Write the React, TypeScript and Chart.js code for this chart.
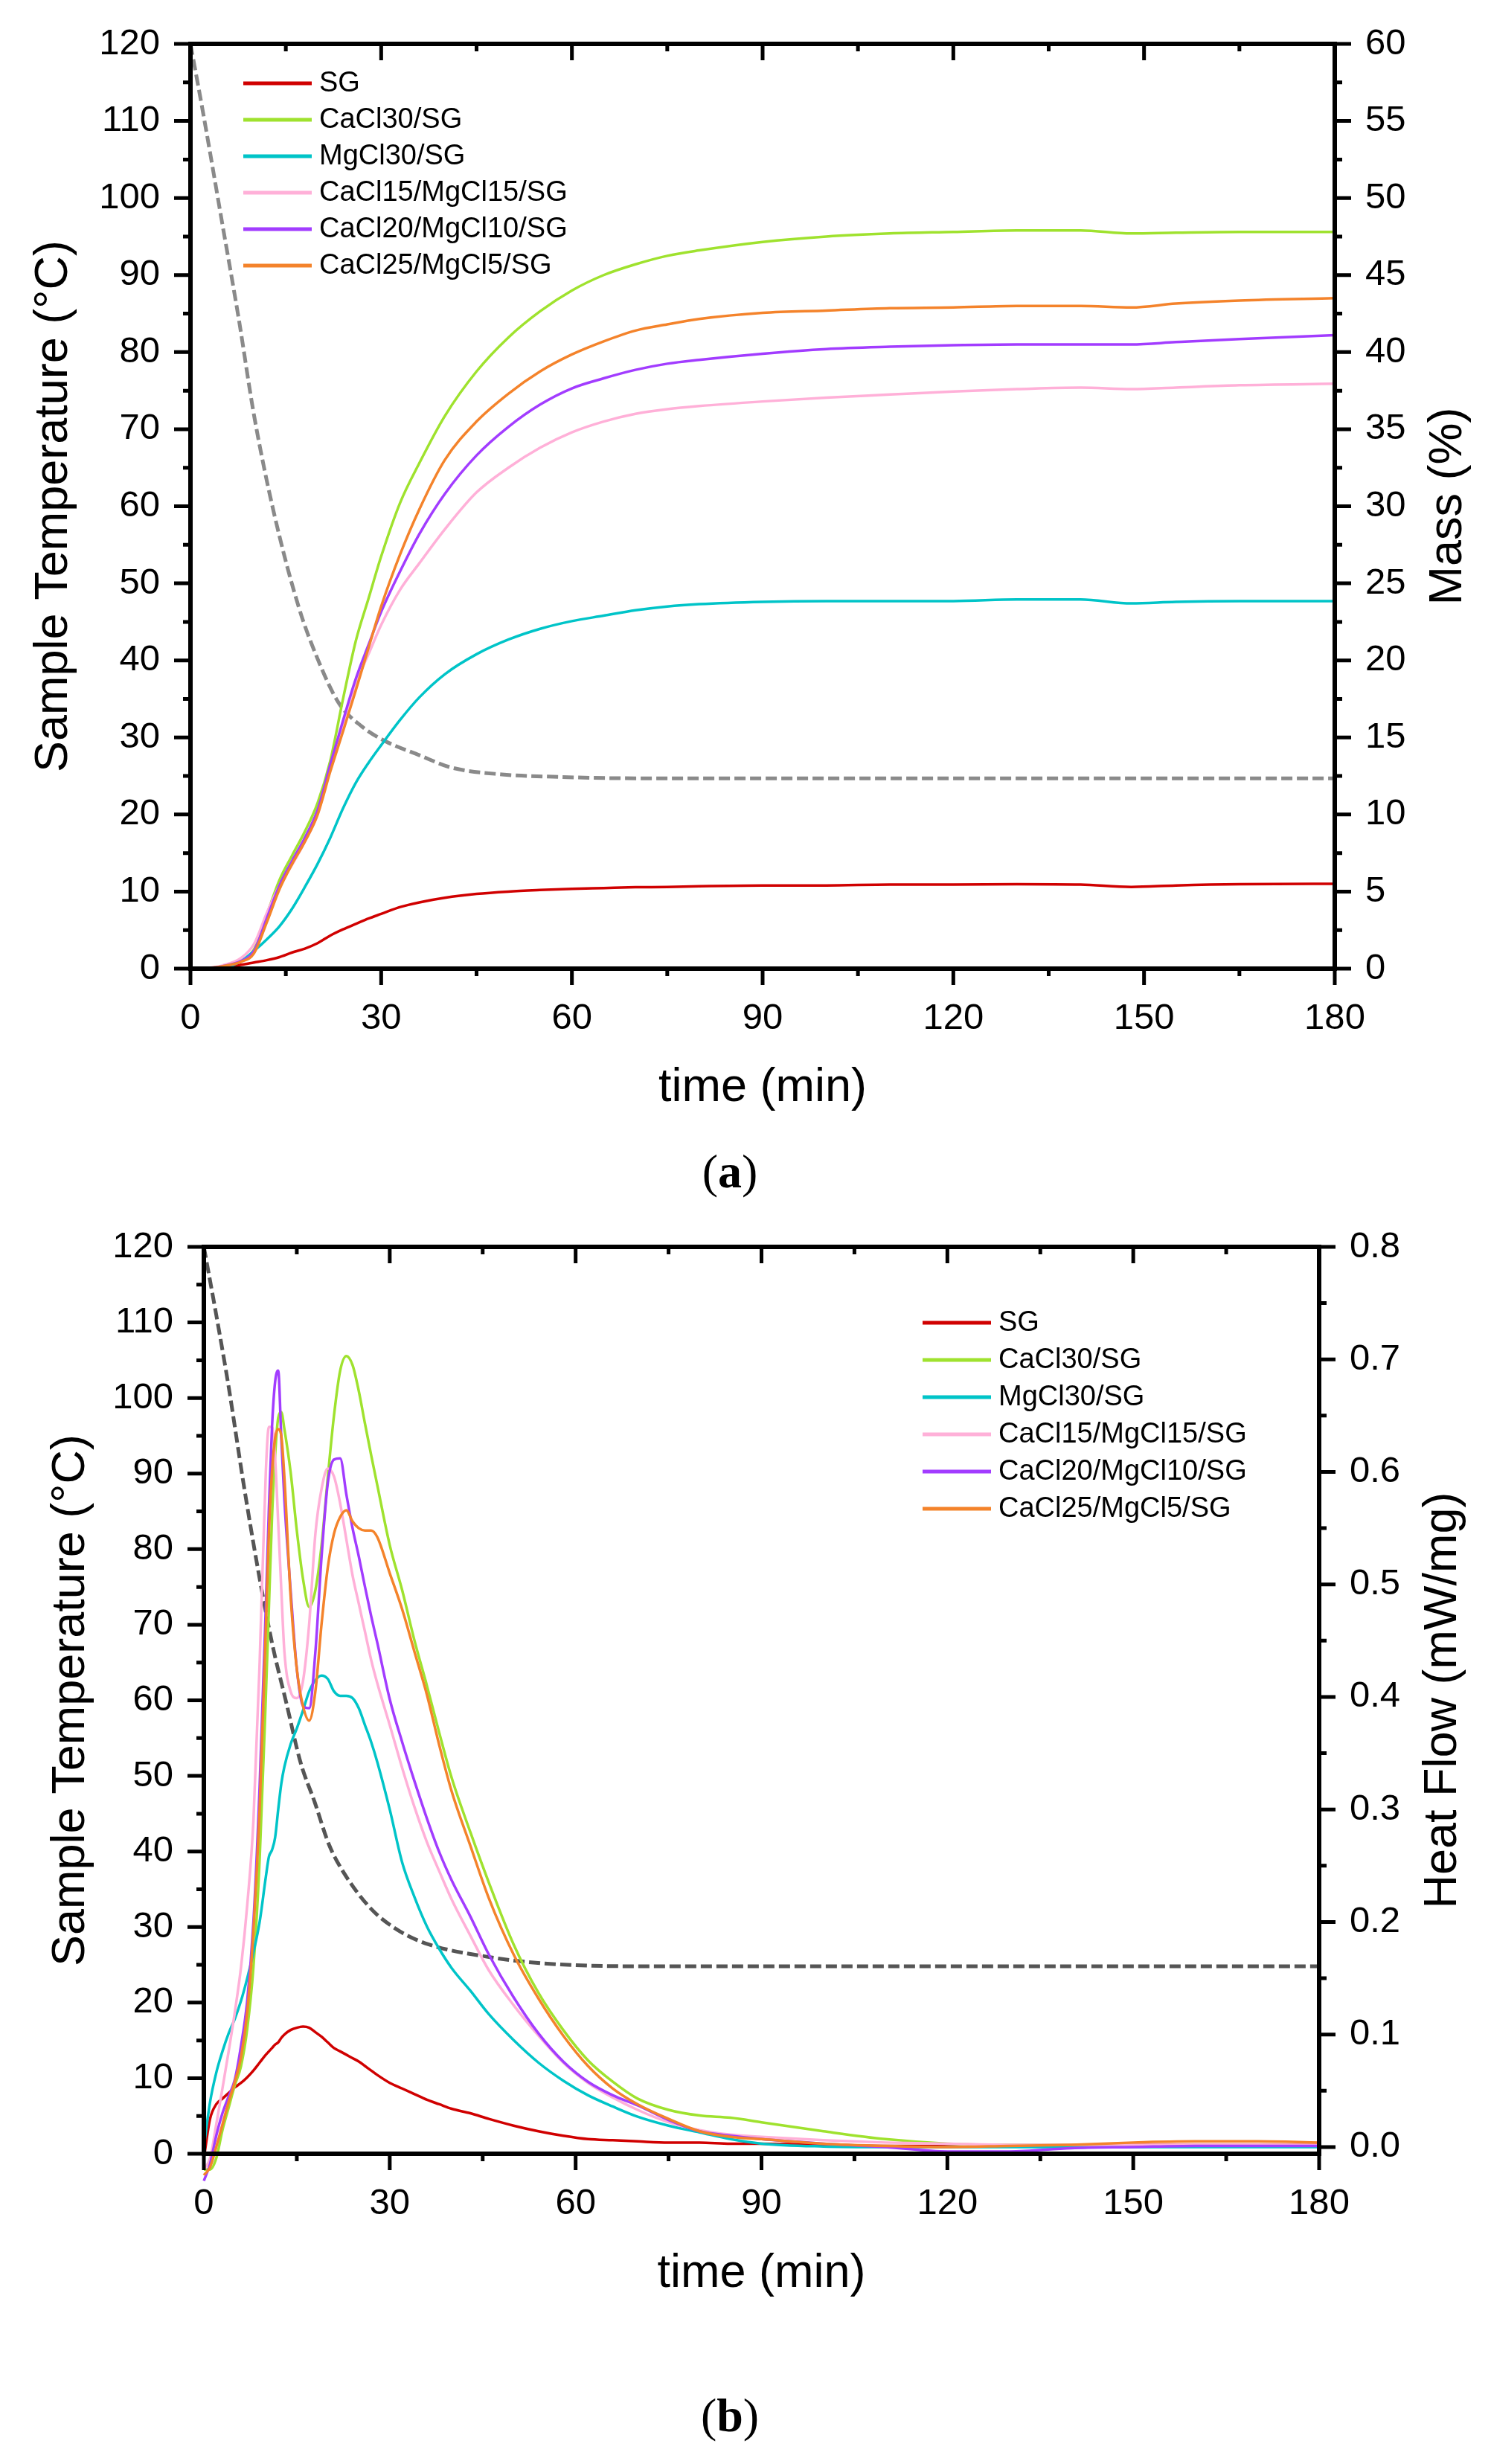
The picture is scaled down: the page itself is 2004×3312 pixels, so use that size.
import React, { useEffect, useRef } from "react";
import { Chart, registerables } from "chart.js";

Chart.register(...registerables);

const FONT = "'Liberation Sans', Arial, Helvetica, sans-serif";

// ---------------- shared ----------------
const SERIES_LABELS = [
  "SG",
  "CaCl30/SG",
  "MgCl30/SG",
  "CaCl15/MgCl15/SG",
  "CaCl20/MgCl10/SG",
  "CaCl25/MgCl5/SG",
];
const SERIES_COLORS = ["#d00000", "#9fe22e", "#00c4c8", "#ffb0d8", "#a23cff", "#f4832b"];

const X_TICKS = [0, 30, 60, 90, 120, 150, 180];
const X_MINOR = [15, 45, 75, 105, 135, 165];
const TEMP_TICKS = [0, 10, 20, 30, 40, 50, 60, 70, 80, 90, 100, 110, 120];
const TEMP_MINOR = [5, 15, 25, 35, 45, 55, 65, 75, 85, 95, 105, 115];
const MASS_TICKS = [0, 5, 10, 15, 20, 25, 30, 35, 40, 45, 50, 55, 60];
const MASS_MINOR = [2.5, 7.5, 12.5, 17.5, 22.5, 27.5, 32.5, 37.5, 42.5, 47.5, 52.5, 57.5];
const HF_TICKS = [0, 0.1, 0.2, 0.3, 0.4, 0.5, 0.6, 0.7, 0.8];
const HF_MINOR = [0.05, 0.15, 0.25, 0.35, 0.45, 0.55, 0.65, 0.75];

// ---------------- panel (a): mass gain (%) ----------------
const TIME_A = [2, 5, 8, 10, 12, 14, 16, 18, 20, 22, 24, 26, 28, 30, 33, 36, 40, 45, 50, 55, 60, 65, 70, 75, 80, 90, 100, 110, 120, 130, 140, 148, 155, 165, 180];
const MASS_SG = [0, 0.05, 0.25, 0.4, 0.55, 0.75, 1.05, 1.3, 1.65, 2.15, 2.55, 2.9, 3.25, 3.55, 4.0, 4.3, 4.6, 4.85, 5.0, 5.1, 5.18, 5.23, 5.28, 5.3, 5.35, 5.4, 5.4, 5.45, 5.45, 5.48, 5.45, 5.3, 5.4, 5.48, 5.5];
const MASS_CA30 = [0, 0.15, 0.5, 1.25, 3.5, 5.75, 7.35, 8.9, 10.75, 13.5, 17.5, 21.25, 24.0, 26.75, 30.25, 32.8, 35.85, 38.75, 40.95, 42.65, 44.0, 45.0, 45.7, 46.25, 46.6, 47.15, 47.5, 47.7, 47.8, 47.9, 47.9, 47.7, 47.75, 47.8, 47.8];
const MASS_MG30 = [0, 0.05, 0.5, 1.15, 1.9, 2.75, 3.9, 5.3, 6.8, 8.5, 10.4, 12.05, 13.35, 14.5, 16.15, 17.6, 19.1, 20.4, 21.35, 22.05, 22.55, 22.9, 23.25, 23.5, 23.65, 23.8, 23.85, 23.85, 23.85, 23.95, 23.95, 23.7, 23.8, 23.85, 23.85];
const MASS_CA15MG15 = [0, 0.2, 0.7, 1.6, 3.6, 5.4, 6.75, 8.25, 10.0, 13.1, 15.95, 18.5, 20.4, 22.3, 24.6, 26.3, 28.5, 30.9, 32.5, 33.8, 34.8, 35.5, 36.0, 36.3, 36.5, 36.8, 37.05, 37.25, 37.45, 37.6, 37.7, 37.6, 37.7, 37.85, 37.95];
const MASS_CA20MG10 = [0, 0.15, 0.5, 1.15, 3.25, 5.4, 7.0, 8.5, 10.3, 13.25, 16.1, 18.8, 21.0, 23.15, 25.8, 28.2, 30.8, 33.3, 35.15, 36.6, 37.65, 38.3, 38.85, 39.25, 39.5, 39.9, 40.2, 40.35, 40.45, 40.5, 40.5, 40.5, 40.65, 40.85, 41.1];
const MASS_CA25MG5 = [0, 0.15, 0.45, 1.0, 3.0, 5.15, 6.8, 8.25, 10.0, 12.8, 15.4, 18.05, 20.8, 23.5, 26.9, 29.8, 33.0, 35.5, 37.3, 38.75, 39.85, 40.7, 41.4, 41.8, 42.15, 42.55, 42.7, 42.85, 42.9, 43.0, 43.0, 42.9, 43.15, 43.35, 43.5];
const TEMP_TIME_A = [0, 2, 5, 7.6, 10, 13, 17, 20, 23.3, 27, 30.7, 36, 41, 49, 57, 70, 100, 140, 180];
const TEMP_A = [120, 111, 96.7, 84.3, 71.8, 59.6, 47.0, 40.2, 34.5, 31.4, 29.5, 27.7, 26.1, 25.2, 24.9, 24.7, 24.7, 24.7, 24.7];

// ---------------- panel (b): heat flow (mW/mg) ----------------
const TIME_B = [0, 1, 2, 3, 4, 5, 6, 7, 8, 9, 10, 10.5, 11, 11.5, 12, 12.5, 13, 14, 15, 16, 17, 18, 19, 20, 21, 22, 23, 24, 25, 26, 27, 28, 30, 32, 34, 36, 38, 40, 43, 46, 50, 54, 58, 62, 66, 70, 75, 80, 85, 90, 100, 110, 120, 130, 140, 150, 160, 170, 180];
const HF_SG = [-0.01, 0.025, 0.038, 0.043, 0.048, 0.053, 0.057, 0.062, 0.068, 0.075, 0.082, 0.085, 0.088, 0.091, 0.093, 0.097, 0.1, 0.104, 0.106, 0.107, 0.106, 0.102, 0.098, 0.093, 0.088, 0.085, 0.082, 0.079, 0.076, 0.072, 0.068, 0.064, 0.057, 0.052, 0.047, 0.042, 0.038, 0.034, 0.03, 0.025, 0.019, 0.014, 0.01, 0.007, 0.006, 0.005, 0.004, 0.004, 0.003, 0.003, 0.002, 0.001, 0.001, 0.001, 0.001, 0.002, 0.002, 0.002, 0.002];
const HF_CA30 = [-0.02, -0.02, -0.01, 0.015, 0.035, 0.055, 0.072, 0.105, 0.16, 0.255, 0.4, 0.48, 0.56, 0.615, 0.648, 0.653, 0.638, 0.6, 0.548, 0.505, 0.48, 0.495, 0.535, 0.595, 0.65, 0.69, 0.703, 0.695, 0.672, 0.643, 0.615, 0.588, 0.535, 0.495, 0.45, 0.41, 0.368, 0.328, 0.28, 0.235, 0.18, 0.137, 0.104, 0.077, 0.058, 0.043, 0.033, 0.028, 0.026, 0.022, 0.014, 0.007, 0.003, 0.002, 0.002, 0.001, 0.001, 0.001, 0.001];
const HF_MG30 = [0.0, 0.04, 0.066, 0.085, 0.101, 0.114, 0.13, 0.15, 0.173, 0.2, 0.24, 0.258, 0.264, 0.275, 0.3, 0.323, 0.338, 0.358, 0.372, 0.388, 0.405, 0.415, 0.419, 0.416, 0.405, 0.401, 0.401, 0.399, 0.39, 0.375, 0.36, 0.342, 0.3, 0.253, 0.222, 0.196, 0.176, 0.159, 0.139, 0.118, 0.095, 0.075, 0.059, 0.046, 0.036, 0.027, 0.019, 0.013, 0.007, 0.003, 0.0005, 0, 0, 0, 0, 0, 0, 0, 0];
const HF_CA15MG15 = [-0.02, -0.01, 0.02, 0.052, 0.085, 0.12, 0.16, 0.215, 0.29, 0.43, 0.6, 0.64, 0.64, 0.612, 0.555, 0.495, 0.44, 0.405, 0.399, 0.414, 0.465, 0.545, 0.585, 0.603, 0.596, 0.572, 0.54, 0.508, 0.483, 0.458, 0.433, 0.412, 0.375, 0.337, 0.302, 0.271, 0.245, 0.22, 0.188, 0.157, 0.126, 0.099, 0.075, 0.057, 0.044, 0.033, 0.022, 0.015, 0.011, 0.009, 0.006, 0.004, 0.003, 0.002, 0.002, 0.002, 0.002, 0.002, 0.002];
const HF_CA20MG10 = [-0.03, -0.015, 0.01, 0.03, 0.045, 0.06, 0.09, 0.13, 0.2, 0.32, 0.48, 0.568, 0.64, 0.68, 0.69, 0.63, 0.575, 0.495, 0.425, 0.392, 0.39, 0.44, 0.525, 0.59, 0.611, 0.612, 0.58, 0.55, 0.525, 0.498, 0.472, 0.448, 0.398, 0.36, 0.325, 0.292, 0.262, 0.237, 0.205, 0.171, 0.133, 0.101, 0.076, 0.058, 0.046, 0.037, 0.024, 0.014, 0.01, 0.007, 0.003, 0.0, -0.004, -0.004, -0.001, 0.0, 0.001, 0.001, 0.001];
const HF_CA25MG5 = [-0.025, -0.018, 0.0, 0.02, 0.04, 0.058, 0.08, 0.12, 0.192, 0.3, 0.46, 0.546, 0.6, 0.63, 0.638, 0.632, 0.595, 0.49, 0.425, 0.392, 0.379, 0.405, 0.465, 0.515, 0.545, 0.56, 0.566, 0.556, 0.55, 0.548, 0.548, 0.542, 0.51, 0.478, 0.44, 0.402, 0.357, 0.316, 0.268, 0.221, 0.171, 0.132, 0.099, 0.072, 0.052, 0.038, 0.025, 0.014, 0.009, 0.007, 0.003, 0.001, 0.0, 0.001, 0.002, 0.004, 0.005, 0.005, 0.004];
const TEMP_TIME_B = [0, 2, 4, 6.4, 8.7, 11, 13.3, 15.6, 17.9, 20.2, 22.5, 27, 31.7, 36.3, 45.5, 54.7, 72, 100, 140, 180];
const TEMP_B = [120, 111, 101.5, 88.7, 77.5, 67.6, 59.7, 51.8, 46.5, 40.9, 37.3, 32.4, 29.4, 27.7, 26.1, 25.2, 24.8, 24.8, 24.8, 24.8];

const MASS_SERIES = [MASS_SG, MASS_CA30, MASS_MG30, MASS_CA15MG15, MASS_CA20MG10, MASS_CA25MG5];
const HF_SERIES = [HF_SG, HF_CA30, HF_MG30, HF_CA15MG15, HF_CA20MG10, HF_CA25MG5];

const toPoints = (xs: number[], ys: number[]) => xs.map((x, i) => ({ x, y: ys[i] }));

type DecorCfg = {
  leftMajor: number[];
  leftMinor: number[];
  rightMajor: number[];
  rightMinor: number[];
  leftTitle: string;
  rightTitle: string;
  leftTitleX: number;
  rightTitleX: number;
  xTitleY: number;
  legendLineX: number;
  legendY0: number;
  legendDy: number;
};

function makeDecor(cfg: DecorCfg) {
  return {
    id: "decor",
    afterDraw(chart: any) {
      const ctx = chart.ctx as CanvasRenderingContext2D;
      const { left, right, top, bottom } = chart.chartArea;
      const xs = chart.scales.x;
      const yl = chart.scales.y;
      const yr = chart.scales.y2;
      ctx.save();
      ctx.strokeStyle = "#000";
      ctx.lineWidth = 6;
      ctx.lineCap = "butt";
      ctx.beginPath();
      ctx.rect(left, top, right - left, bottom - top);
      ctx.stroke();
      const MAJ = 22;
      const MIN = 10;
      ctx.lineWidth = 5;
      ctx.beginPath();
      const xt = (vals: number[], len: number) => {
        vals.forEach((v) => {
          const p = xs.getPixelForValue(v);
          ctx.moveTo(p, bottom);
          ctx.lineTo(p, bottom + len);
          ctx.moveTo(p, top);
          ctx.lineTo(p, top + len);
        });
      };
      xt(X_TICKS, MAJ);
      xt(X_MINOR, MIN);
      const yt = (scale: any, vals: number[], len: number, side: number) => {
        vals.forEach((v) => {
          const p = scale.getPixelForValue(v);
          const x0 = side < 0 ? left : right;
          ctx.moveTo(x0, p);
          ctx.lineTo(x0 + side * len, p);
        });
      };
      yt(yl, cfg.leftMajor, MAJ, -1);
      yt(yl, cfg.leftMinor, MIN, -1);
      yt(yr, cfg.rightMajor, MAJ, 1);
      yt(yr, cfg.rightMinor, MIN, 1);
      ctx.stroke();

      // axis titles
      ctx.fillStyle = "#000";
      ctx.font = `63px ${FONT}`;
      const midY = (top + bottom) / 2;
      const rot = (text: string, x: number) => {
        ctx.save();
        ctx.translate(x, midY);
        ctx.rotate(-Math.PI / 2);
        ctx.textAlign = "center";
        ctx.textBaseline = "alphabetic";
        ctx.fillText(text, 0, 0);
        ctx.restore();
      };
      rot(cfg.leftTitle, cfg.leftTitleX);
      rot(cfg.rightTitle, cfg.rightTitleX);
      ctx.textAlign = "center";
      ctx.textBaseline = "middle";
      ctx.fillText("time (min)", (left + right) / 2, cfg.xTitleY);

      // legend
      ctx.font = `38px ${FONT}`;
      ctx.textAlign = "left";
      ctx.textBaseline = "middle";
      let row = 0;
      chart.data.datasets.forEach((ds: any) => {
        if (!ds.label) return;
        const y = cfg.legendY0 + row * cfg.legendDy;
        ctx.beginPath();
        ctx.strokeStyle = ds.borderColor;
        ctx.lineWidth = 5;
        ctx.moveTo(cfg.legendLineX, y);
        ctx.lineTo(cfg.legendLineX + 92, y);
        ctx.stroke();
        ctx.fillStyle = "#000";
        ctx.fillText(ds.label, cfg.legendLineX + 102, y + 1);
        row++;
      });
      ctx.restore();
    },
  };
}

const tickFont = { family: FONT, size: 49 };

function axisX(height: number) {
  return {
    type: "linear",
    position: "bottom",
    min: 0,
    max: 180,
    grid: { display: false, drawTicks: false },
    border: { display: false },
    ticks: { font: tickFont, color: "#000", padding: 38, maxRotation: 0, autoSkip: false, callback: (v: any) => String(v) },
    afterBuildTicks: (s: any) => {
      s.ticks = X_TICKS.map((v) => ({ value: v }));
    },
    afterFit: (s: any) => {
      s.height = height;
    },
  };
}

function axisY(position: string, min: number, max: number, ticks: number[], width: number, fmt: (v: number) => string) {
  return {
    type: "linear",
    position,
    min,
    max,
    grid: { display: false, drawTicks: false },
    border: { display: false },
    ticks: { font: tickFont, color: "#000", padding: 41, autoSkip: false, callback: (v: any) => fmt(Number(v)) },
    afterBuildTicks: (s: any) => {
      s.ticks = ticks.map((v) => ({ value: v }));
    },
    afterFit: (s: any) => {
      s.width = width;
    },
  };
}

// canvas A is shifted up so the chart area top can sit at page y = 59
const A_TOP = -40;
const A_H = 1560;

function configA(): any {
  const datasets: any[] = SERIES_LABELS.map((label, i) => ({
    label,
    data: toPoints(TIME_A, MASS_SERIES[i]),
    yAxisID: "y2",
    borderColor: SERIES_COLORS[i],
    borderWidth: 3.5,
    pointRadius: 0,
    cubicInterpolationMode: "monotone",
    order: 6 - i,
  }));
  datasets.push({
    label: "",
    data: toPoints(TEMP_TIME_A, TEMP_A),
    yAxisID: "y",
    borderColor: "#8a8a8a",
    borderWidth: 5,
    borderDash: [15, 6],
    pointRadius: 0,
    cubicInterpolationMode: "monotone",
    order: 10,
  });
  return {
    type: "line",
    data: { datasets },
    options: {
      responsive: false,
      animation: false,
      devicePixelRatio: 1,
      layout: { padding: { top: 59 - A_TOP, left: 0, right: 0, bottom: 0 } },
      plugins: { legend: { display: false }, tooltip: { enabled: false }, title: { display: false } },
      scales: {
        x: axisX(A_TOP + A_H - 1302),
        y: axisY("left", 0, 120, TEMP_TICKS, 256, (v) => String(v)),
        y2: axisY("right", 0, 60, MASS_TICKS, 2004 - 1794, (v) => String(v)),
      },
    },
    plugins: [
      makeDecor({
        leftMajor: TEMP_TICKS,
        leftMinor: TEMP_MINOR,
        rightMajor: MASS_TICKS,
        rightMinor: MASS_MINOR,
        leftTitle: "Sample Temperature (°C)",
        rightTitle: "Mass (%)",
        leftTitleX: 90,
        rightTitleX: 1964,
        xTitleY: 1463 - A_TOP,
        legendLineX: 327,
        legendY0: 112 - A_TOP,
        legendDy: 49,
      }),
    ],
  };
}

const B_TOP = 1560;
const B_H = 1560;

function configB(): any {
  const datasets: any[] = SERIES_LABELS.map((label, i) => ({
    label,
    data: toPoints(TIME_B, HF_SERIES[i]),
    yAxisID: "y2",
    borderColor: SERIES_COLORS[i],
    borderWidth: 3.5,
    pointRadius: 0,
    cubicInterpolationMode: "monotone",
    clip: false,
    order: 6 - i,
  }));
  datasets.push({
    label: "",
    data: toPoints(TEMP_TIME_B, TEMP_B),
    yAxisID: "y",
    borderColor: "#555555",
    borderWidth: 5,
    borderDash: [15, 6],
    pointRadius: 0,
    cubicInterpolationMode: "monotone",
    order: 10,
  });
  return {
    type: "line",
    data: { datasets },
    options: {
      responsive: false,
      animation: false,
      devicePixelRatio: 1,
      layout: { padding: { top: 1676 - B_TOP, left: 0, right: 0, bottom: 0 } },
      plugins: { legend: { display: false }, tooltip: { enabled: false }, title: { display: false } },
      scales: {
        x: axisX(B_TOP + B_H - 2895),
        y: axisY("left", 0, 120, TEMP_TICKS, 274, (v) => String(v)),
        y2: axisY("right", -0.006, 0.8, HF_TICKS, 2004 - 1773, (v) => v.toFixed(1)),
      },
    },
    plugins: [
      makeDecor({
        leftMajor: TEMP_TICKS,
        leftMinor: TEMP_MINOR,
        rightMajor: HF_TICKS,
        rightMinor: HF_MINOR,
        leftTitle: "Sample Temperature (°C)",
        rightTitle: "Heat Flow (mW/mg)",
        leftTitleX: 113,
        rightTitleX: 1957,
        xTitleY: 3057 - B_TOP,
        legendLineX: 1240,
        legendY0: 1778 - B_TOP,
        legendDy: 50,
      }),
    ],
  };
}

function ChartCanvas({ make, top, height }: { make: () => any; top: number; height: number }) {
  const ref = useRef<HTMLCanvasElement | null>(null);
  useEffect(() => {
    if (!ref.current) return;
    const chart = new Chart(ref.current, make());
    return () => chart.destroy();
  }, []);
  return (
    <canvas
      ref={ref}
      width={2004}
      height={height}
      style={{ position: "absolute", left: 0, top, width: 2004, height, display: "block" }}
    />
  );
}

const captionStyle = (centerY: number): React.CSSProperties => ({
  position: "absolute",
  left: 981 - 150,
  width: 300,
  top: centerY - 40,
  height: 80,
  lineHeight: "80px",
  textAlign: "center",
  fontFamily: "'Liberation Serif', 'Times New Roman', serif",
  fontSize: 64,
  color: "#000",
});

export default function App() {
  useEffect(() => {
    document.body.style.margin = "0";
  }, []);
  return (
    <div style={{ position: "absolute", left: 0, top: 0, width: 2004, height: 3312, background: "#fff", overflow: "hidden" }}>
      <ChartCanvas make={configA} top={A_TOP} height={A_H} />
      <ChartCanvas make={configB} top={B_TOP} height={B_H} />
      <div style={captionStyle(1575)}>
        (<b>a</b>)
      </div>
      <div style={captionStyle(3247)}>
        (<b>b</b>)
      </div>
    </div>
  );
}
